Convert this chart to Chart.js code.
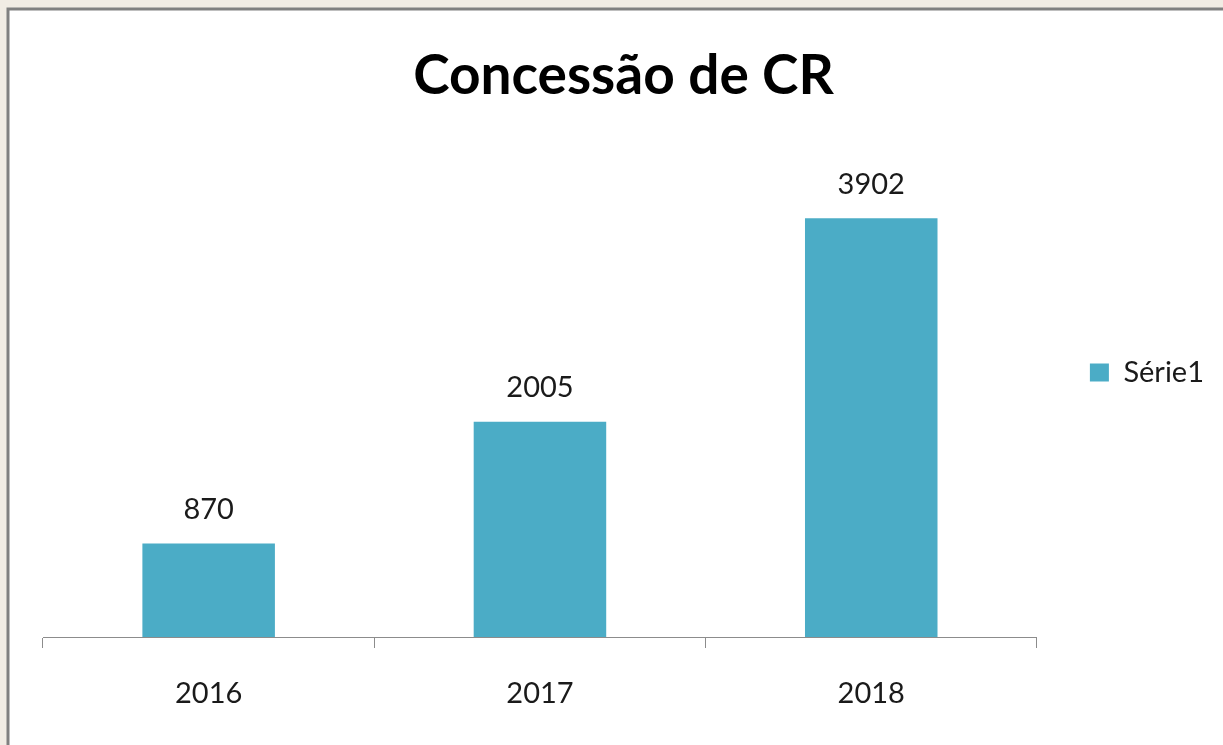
<!DOCTYPE html>
<html>
<head>
<meta charset="utf-8">
<title>Concessão de CR</title>
<script src="https://cdn.jsdelivr.net/npm/chart.js@4.4.1/dist/chart.umd.min.js"></script>
<style>
  html, body { margin: 0; padding: 0; background: #f1ece4; }
  #wrap { width: 1223px; height: 745px; position: relative; }
</style>
</head>
<body>
<div id="wrap"><canvas id="crChart" width="1223" height="745"></canvas></div>
<script>
// chart data
const years = ['2016', '2017', '2018'];
const concessoes = [870, 2005, 3902];
const seriesName = 'Série1';
const chartTitle = 'Concessão de CR';

const barColor = '#4BACC6';
const fontFamily = 'Lato, "Open Sans", sans-serif';

// frame + background, like the office chart box
const framePlugin = {
    id: 'frame',
    beforeDraw(chart) {
        const ctx = chart.ctx;
        ctx.save();
        ctx.fillStyle = '#f1ece4';
        ctx.fillRect(0, 0, chart.width, chart.height);
        ctx.fillStyle = '#ffffff';
        ctx.fillRect(8, 9, chart.width, chart.height);
        ctx.strokeStyle = '#808080';
        ctx.lineWidth = 3;
        ctx.strokeRect(8, 9, chart.width + 10, chart.height + 10);
        ctx.restore();
    }
};

// value labels above each bar
const valueLabels = {
    id: 'valueLabels',
    afterDatasetsDraw(chart) {
        const ctx = chart.ctx;
        const meta = chart.getDatasetMeta(0);
        ctx.save();
        ctx.font = '29px ' + fontFamily;
        ctx.fillStyle = '#1a1a1a';
        ctx.textAlign = 'center';
        ctx.textBaseline = 'middle';
        meta.data.forEach((bar, i) => {
            ctx.fillText(String(concessoes[i]), bar.x, bar.y - 34);
        });
        ctx.restore();
    }
};

const ctx = document.getElementById('crChart').getContext('2d');
const chart = new Chart(ctx, {
    type: 'bar',
    data: {
        labels: years,
        datasets: [{
            label: seriesName,
            data: concessoes,
            backgroundColor: barColor,
            borderWidth: 0,
            categoryPercentage: 1,
            barPercentage: 0.4
        }]
    },
    options: {
        responsive: false,
        animation: false,
        layout: {
            padding: { left: 33, right: 9, top: 0, bottom: 0 }
        },
        plugins: {
            title: {
                display: true,
                text: chartTitle,
                color: '#000',
                font: { family: fontFamily, size: 55, weight: 'bold', lineHeight: 1.2 },
                padding: { top: 43, bottom: 45 }
            },
            legend: {
                display: true,
                position: 'right',
                maxWidth: 178,
                labels: {
                    boxWidth: 19,
                    boxHeight: 18,
                    padding: 53,
                    color: '#1a1a1a',
                    font: { family: fontFamily, size: 29 }
                }
            },
            tooltip: { enabled: false }
        },
        scales: {
            x: {
                offset: true,
                grid: {
                    offset: true,
                    drawOnChartArea: false,
                    drawTicks: true,
                    tickLength: 11,
                    color: '#8c8c8c'
                },
                border: { display: true, color: '#8c8c8c', width: 1 },
                ticks: {
                    color: '#1a1a1a',
                    padding: 28,
                    font: { family: fontFamily, size: 29 }
                },
                afterFit(scale) { scale.height = 108; }
            },
            y: {
                display: true,
                min: 0,
                max: 4500,
                grid: { display: false },
                border: { display: false },
                ticks: { display: false },
                afterFit(scale) { scale.width = 10; }
            }
        }
    },
    plugins: [framePlugin, valueLabels]
});
</script>
</body>
</html>
